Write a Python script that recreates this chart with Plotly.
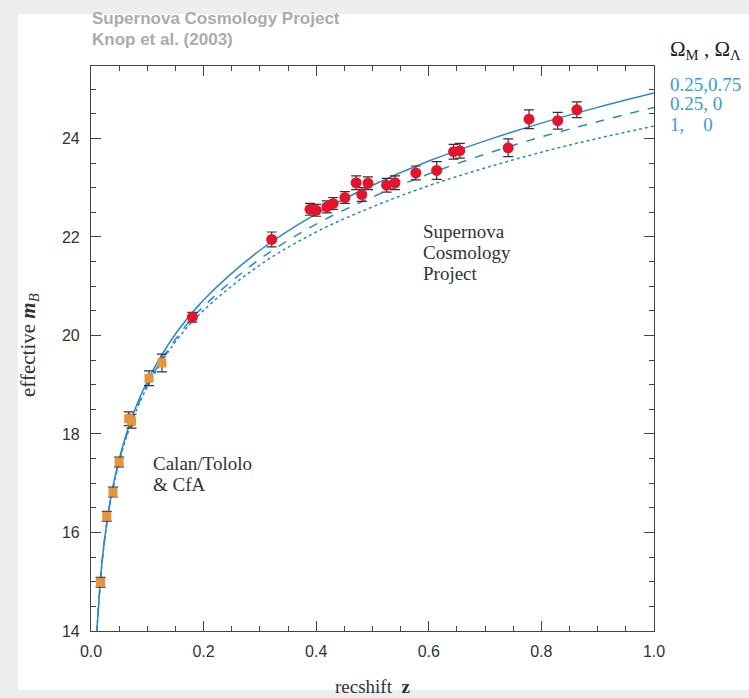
import plotly.graph_objects as go

# ---- data ----
calan_z = [0.017, 0.028, 0.039, 0.050, 0.067, 0.072, 0.103, 0.126]
calan_m = [14.99, 16.33, 16.82, 17.43, 18.31, 18.26, 19.13, 19.44]
calan_err = [0.10, 0.10, 0.10, 0.10, 0.14, 0.14, 0.15, 0.18]

scp_z = [0.180, 0.321, 0.389, 0.400, 0.419, 0.430, 0.451, 0.471, 0.481, 0.492,
         0.525, 0.540, 0.577, 0.614, 0.644, 0.655, 0.741, 0.778, 0.829, 0.863]
scp_m = [20.37, 21.95, 22.56, 22.54, 22.61, 22.68, 22.80, 23.10, 22.86, 23.09,
         23.05, 23.10, 23.30, 23.35, 23.73, 23.75, 23.81, 24.39, 24.36, 24.58]
scp_err = [0.10, 0.15, 0.12, 0.12, 0.12, 0.12, 0.12, 0.14, 0.14, 0.13,
           0.14, 0.14, 0.14, 0.18, 0.15, 0.15, 0.18, 0.19, 0.17, 0.16]

curve_z = [0.01, 0.02, 0.03, 0.04, 0.05, 0.07, 0.10, 0.15, 0.20, 0.30,
           0.40, 0.50, 0.60, 0.70, 0.80, 0.90, 1.00]
curve_flat_lambda = [13.93, 15.45, 16.35, 16.99, 17.49, 18.25, 19.07, 20.03, 20.72, 21.73,
                     22.47, 23.05, 23.54, 23.95, 24.31, 24.63, 24.92]
curve_open = [13.92, 15.43, 16.35, 16.96, 17.45, 18.20, 19.00, 19.92, 20.59, 21.55,
              22.26, 22.81, 23.28, 23.68, 24.03, 24.34, 24.63]
curve_einstein_desitter = [13.92, 15.43, 16.31, 16.94, 17.43, 18.17, 18.96, 19.87, 20.51, 21.43,
                           22.10, 22.61, 23.04, 23.40, 23.72, 24.00, 24.25]

legend_labels = ["0.25,0.75", "0.25, 0", "1,    0"]
calan_label_lines = ["Calan/Tololo", "& CfA"]
scp_label_lines = ["Supernova", "Cosmology", "Project"]
title_lines = ["Supernova Cosmology Project", "Knop et al. (2003)"]

x_tickvals = [0.0, 0.2, 0.4, 0.6, 0.8, 1.0]
x_ticktext = ["0.0", "0.2", "0.4", "0.6", "0.8", "1.0"]
y_tickvals = [14, 16, 18, 20, 22, 24]

LINE_BLUE = "#2b88cc"
LEGEND_BLUE = "#3a9bd8"
SERIF = "Liberation Serif, Times New Roman, serif"
SANS = "Liberation Sans, Arial, sans-serif"

# plot-area geometry in pixels (for placing text)
L, R, T, B = 91, 654, 66, 631
W, H = R - L, B - T


def px(xp):
    return (xp - L) / W


def py(yp):
    return (B - yp) / H


fig = go.Figure()

for ys, dash in [(curve_flat_lambda, "solid"), (curve_open, "dash"), (curve_einstein_desitter, "dot")]:
    fig.add_trace(go.Scatter(x=curve_z, y=ys, mode="lines", line_shape="spline",
                             line=dict(color=LINE_BLUE, width=1.5, dash=dash),
                             showlegend=False, hoverinfo="skip"))

fig.add_trace(go.Scatter(
    x=calan_z, y=calan_m, mode="markers",
    marker=dict(symbol="square", size=9, color="#e8953a"),
    error_y=dict(type="data", array=calan_err, color="#333333", thickness=1.2, width=5),
    showlegend=False))

fig.add_trace(go.Scatter(
    x=scp_z, y=scp_m, mode="markers",
    marker=dict(symbol="circle", size=11, color="#e3142c"),
    error_y=dict(type="data", array=scp_err, color="#333333", thickness=1.2, width=5),
    showlegend=False))

axis_common = dict(
    showline=True, linecolor="#444444", linewidth=1.2, mirror="ticks",
    ticks="inside", ticklen=10, tickwidth=1.2, tickcolor="#444444",
    showgrid=False, zeroline=False,
    tickfont=dict(family=SANS, size=16, color="#333333"),
)

fig.update_xaxes(range=[0, 1.0], tickvals=x_tickvals, ticktext=x_ticktext,
                 minor=dict(dtick=0.05, ticks="inside", ticklen=5, tickcolor="#444444", showgrid=False),
                 ticklabelstandoff=6, **axis_common)
fig.update_yaxes(range=[14, 25.47], tickvals=y_tickvals,
                 minor=dict(dtick=0.5, ticks="inside", ticklen=5, tickcolor="#444444", showgrid=False),
                 ticklabelstandoff=7, **axis_common)

annotations = []
for i, line in enumerate(title_lines):
    annotations.append(dict(text=line, xref="paper", yref="paper", x=px(90), y=py(19 + 21 * i),
                            xanchor="left", yanchor="middle", align="left", showarrow=False,
                            font=dict(family=SANS, size=17, color="#ababab", weight="bold")))
for i, line in enumerate(calan_label_lines):
    annotations.append(dict(text=line, xref="paper", yref="paper", x=px(151), y=py(463 + 21 * i),
                            xanchor="left", yanchor="middle", align="left", showarrow=False,
                            font=dict(family=SERIF, size=19, color="#333333")))
for i, line in enumerate(scp_label_lines):
    annotations.append(dict(text=line, xref="paper", yref="paper", x=px(421), y=py(232 + 20.5 * i),
                            xanchor="left", yanchor="middle", align="left", showarrow=False,
                            font=dict(family=SERIF, size=19, color="#333333")))

annotations += [
    dict(text="Ω<sub>M</sub> , Ω<sub>Λ</sub>", xref="paper", yref="paper",
         x=px(668), y=py(50), xanchor="left", yanchor="middle", align="left",
         showarrow=False, font=dict(family=SERIF, size=21, color="#222222")),
    dict(text="effective <b><i>m</i></b><sub><i>B</i></sub>", xref="paper", yref="paper",
         x=px(29), y=py(345), xanchor="center", yanchor="middle", textangle=-90,
         showarrow=False, font=dict(family=SERIF, size=21, color="#333333")),
    dict(text="recshift  <b>z</b>", xref="paper", yref="paper",
         x=0.5, y=py(686), xanchor="center", yanchor="middle",
         showarrow=False, font=dict(family=SERIF, size=19, color="#333333")),
]
legend_y = [84, 104, 124]
for lab, yp in zip(legend_labels, legend_y):
    annotations.append(dict(text=lab, xref="paper", yref="paper",
                            x=px(668), y=py(yp),
                            xanchor="left", yanchor="middle", align="left", showarrow=False,
                            font=dict(family=SERIF, size=19, color=LEGEND_BLUE)))

fig.update_layout(
    width=749, height=698,
    margin=dict(l=L, r=749 - R, t=T, b=698 - B),
    paper_bgcolor="#eeeeee", plot_bgcolor="white",
    annotations=annotations,
    shapes=[dict(type="rect", xref="paper", yref="paper", layer="below",
                 x0=px(18), x1=px(760), y0=py(690), y1=py(14),
                 fillcolor="white", line=dict(width=0))],
)

fig.write_html("out.html")
